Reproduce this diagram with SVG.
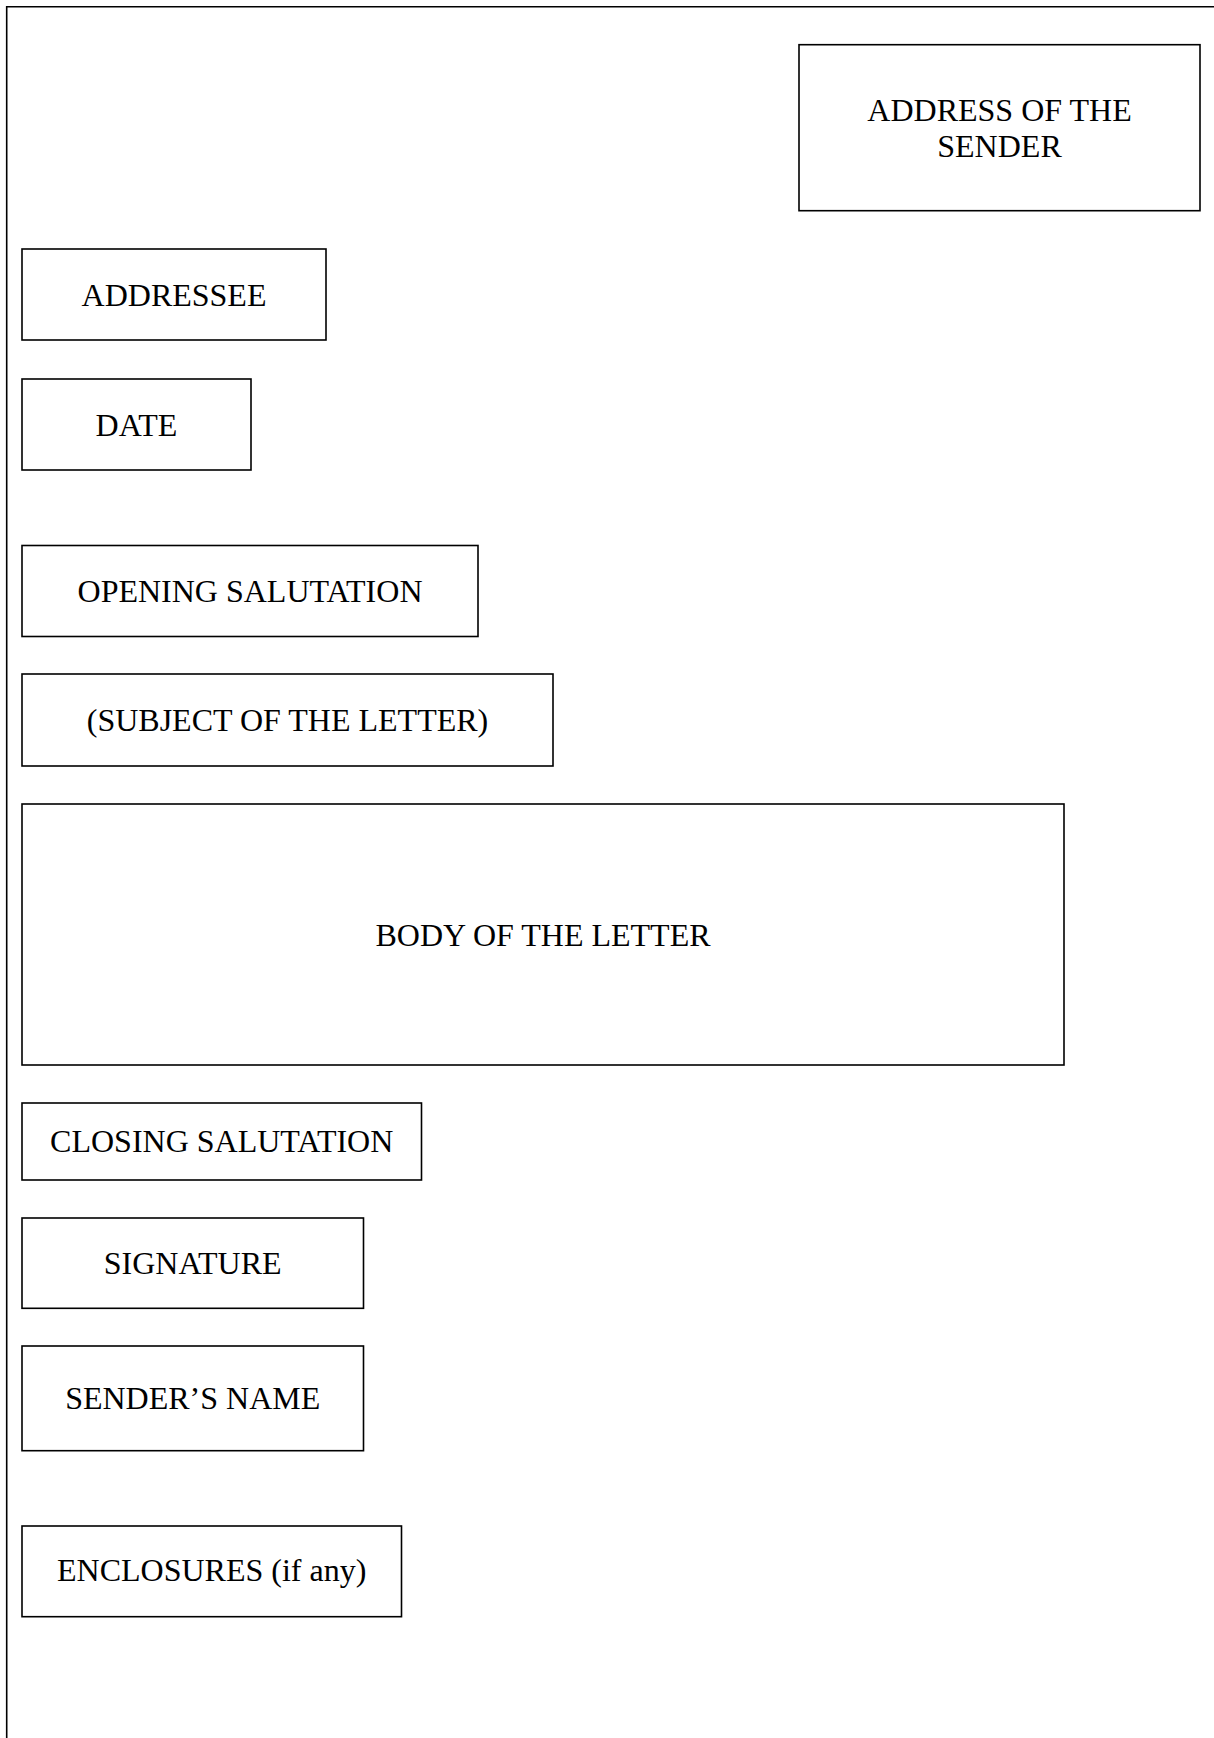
<svg xmlns="http://www.w3.org/2000/svg" width="1214" height="1738" viewBox="0 0 1214 1738">
<style>
.box{fill:#fff;stroke:#000;stroke-width:1.6}
.frame{fill:none;stroke:#000;stroke-width:1.6}
.lbl{font-family:"Liberation Serif","Times New Roman",serif;font-size:32px;fill:#000;text-anchor:middle}
</style>
<rect width="1214" height="1738" fill="#fff"/>
<path id="page-frame" class="frame" d="M6.7,1745 V6.7 H1220"/>
<g id="connectors"/>
<g id="sender-address">
<rect class="box" x="799" y="44.7" width="401" height="166"/>
<text class="lbl" x="999.5" y="120.7">ADDRESS OF THE</text>
<text class="lbl" x="999.5" y="156.7">SENDER</text>
</g>
<g id="addressee">
<rect class="box" x="22" y="249" width="304" height="91"/>
<text class="lbl" x="174" y="305.7">ADDRESSEE</text>
</g>
<g id="date">
<rect class="box" x="22" y="379" width="229" height="91"/>
<text class="lbl" x="136.5" y="435.5">DATE</text>
</g>
<g id="opening-salutation">
<rect class="box" x="22" y="545.5" width="456" height="91"/>
<text class="lbl" x="250" y="602">OPENING SALUTATION</text>
</g>
<g id="subject">
<rect class="box" x="22" y="674" width="531" height="92"/>
<text class="lbl" x="287.5" y="731">(SUBJECT OF THE LETTER)</text>
</g>
<g id="body">
<rect class="box" x="22" y="804" width="1042" height="261"/>
<text class="lbl" x="543" y="945.5">BODY OF THE LETTER</text>
</g>
<g id="closing-salutation">
<rect class="box" x="22" y="1103" width="399.5" height="77"/>
<text class="lbl" x="221.7" y="1152">CLOSING SALUTATION</text>
</g>
<g id="signature">
<rect class="box" x="22" y="1218" width="341.5" height="90.3"/>
<text class="lbl" x="192.7" y="1274">SIGNATURE</text>
</g>
<g id="sender-name">
<rect class="box" x="22" y="1346" width="341.5" height="104.7"/>
<text class="lbl" x="192.7" y="1409.3">SENDER’S NAME</text>
</g>
<g id="enclosures">
<rect class="box" x="22" y="1526" width="379.5" height="90.7"/>
<text class="lbl" x="211.7" y="1581">ENCLOSURES (if any)</text>
</g>
</svg>
